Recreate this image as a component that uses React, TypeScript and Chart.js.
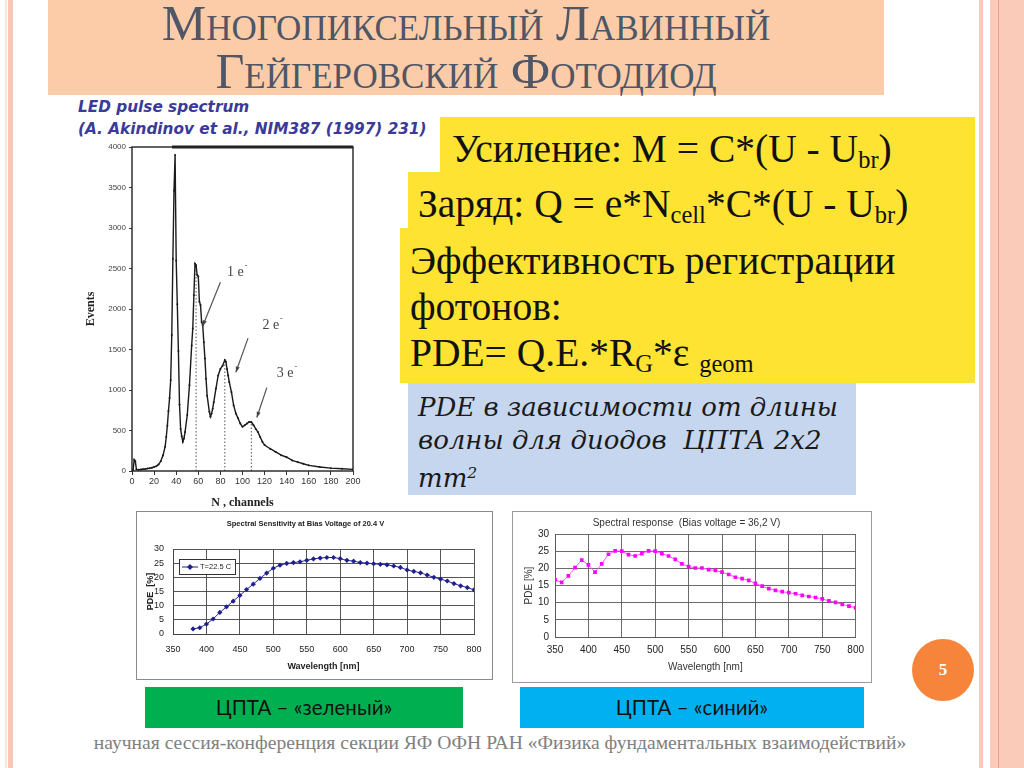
import React, { useEffect, useRef } from "react";
import { Chart, registerables } from "chart.js";
Chart.register(...registerables);

// ---------- LED pulse spectrum ----------
const ledChannels = [0, 1, 2, 3, 4, 6, 8, 10, 12, 14, 16, 18, 20, 22, 24, 26, 28, 30, 31, 32, 33, 34, 35, 36, 37, 38, 39, 40, 41, 42, 43, 44, 45, 46, 47, 48, 50, 52, 54, 55, 56, 57, 58, 59, 60, 61, 62, 63, 64, 65, 66, 67, 68, 70, 71, 72, 73, 74, 76, 78, 80, 82, 84, 85, 86, 87, 88, 90, 92, 94, 96, 98, 100, 102, 104, 106, 108, 110, 112, 114, 116, 118, 120, 125, 130, 135, 140, 145, 150, 155, 160, 170, 180, 190, 200];
const ledEvents = [5, 10, 140, 120, 20, 15, 18, 22, 25, 30, 35, 40, 50, 60, 80, 120, 190, 300, 420, 560, 740, 900, 1120, 1680, 2620, 3460, 3900, 2600, 2060, 1480, 820, 520, 430, 360, 400, 480, 690, 1060, 1550, 1760, 2170, 2560, 2540, 2420, 2400, 2090, 2050, 1840, 1800, 1590, 1390, 1140, 930, 730, 670, 710, 770, 850, 1020, 1180, 1260, 1300, 1370, 1350, 1260, 1180, 1100, 975, 810, 710, 650, 585, 545, 565, 585, 605, 605, 565, 520, 480, 420, 360, 320, 275, 235, 195, 170, 130, 110, 90, 70, 50, 35, 28, 20];
const ledPeakChannels = [58, 84, 108];
const ledPeakEvents = [2540, 1370, 605];
const ledPeakLabels = ["1 e", "2 e", "3 e"];
const ledLabelCh = [86, 118, 131];
const ledLabelEv = [2453, 1799, 1210];
const ledArrowFromCh = [80, 105, 122];
const ledArrowFromEv = [2330, 1640, 1030];
const ledArrowToCh = [64, 94, 113];
const ledArrowToEv = [1790, 1220, 660];

// ---------- Spectral sensitivity (green SiPM) ----------
const greenWavelength = [380, 390, 400, 410, 420, 430, 440, 450, 460, 470, 480, 490, 500, 510, 520, 530, 540, 550, 560, 570, 580, 590, 600, 610, 620, 630, 640, 650, 660, 670, 680, 690, 700, 710, 720, 730, 740, 750, 760, 770, 780, 790, 800];
const greenPDE = [1.8, 2.2, 3.5, 5.3, 7.6, 9.6, 11.6, 13.6, 15.7, 17.6, 19.6, 21.5, 23.2, 24.3, 24.9, 25.2, 25.5, 26.0, 26.5, 26.8, 27.0, 27.0, 26.6, 26.0, 25.7, 25.2, 25.0, 24.8, 24.6, 24.4, 24.0, 23.5, 22.6, 22.1, 21.6, 20.8, 20.0, 19.4, 18.7, 17.8, 17.0, 16.4, 15.6];

// ---------- Spectral response (blue SiPM) ----------
const blueWavelength = [350, 360, 370, 380, 390, 400, 410, 420, 430, 440, 450, 460, 470, 480, 490, 500, 510, 520, 530, 540, 550, 560, 570, 580, 590, 600, 610, 620, 630, 640, 650, 660, 670, 680, 690, 700, 710, 720, 730, 740, 750, 760, 770, 780, 790, 800];
const bluePDE = [16.7, 15.9, 17.8, 20.2, 22.4, 21.0, 18.9, 21.3, 24.1, 25.1, 25.0, 24.0, 23.6, 24.3, 25.1, 25.0, 24.3, 23.6, 22.6, 21.3, 20.5, 20.1, 20.1, 19.6, 19.4, 18.9, 18.2, 17.4, 17.0, 16.5, 15.6, 14.8, 14.1, 13.6, 13.2, 12.9, 12.6, 12.1, 11.8, 11.5, 11.1, 10.5, 10.1, 9.5, 9.0, 8.5];

const SERIF = "'Liberation Serif', 'Times New Roman', serif";
const SANS = "'Liberation Sans', Arial, sans-serif";

function useChart(ref: React.RefObject<HTMLCanvasElement>, make: () => any) {
  useEffect(() => {
    if (!ref.current) return;
    const chart = new Chart(ref.current, make());
    return () => chart.destroy();
  }, []);
}

const plain = (v: any) => String(v);

const ledFramePlugin = {
  id: "ledFrame",
  afterDraw(chart: any) {
    const { ctx, chartArea: a, scales } = chart;
    ctx.save();
    ctx.strokeStyle = "#222";
    ctx.lineWidth = 1.4;
    ctx.strokeRect(a.left, a.top, a.right - a.left, a.bottom - a.top);
    ctx.lineWidth = 3;
    ctx.beginPath();
    ctx.moveTo(a.left + 40, a.top);
    ctx.lineTo(a.right, a.top);
    ctx.stroke();
    const x = scales.x, y = scales.y;
    ctx.fillStyle = "#444";
    ctx.strokeStyle = "#555";
    ctx.lineWidth = 1.2;
    ledPeakLabels.forEach((t, i) => {
      const px = x.getPixelForValue(ledLabelCh[i]);
      const py = y.getPixelForValue(ledLabelEv[i]);
      ctx.font = `14px ${SERIF}`;
      ctx.textBaseline = "middle";
      ctx.textAlign = "left";
      ctx.fillStyle = "#444";
      ctx.fillText(t, px, py);
      const w = ctx.measureText(t).width;
      ctx.font = `8px ${SERIF}`;
      ctx.fillText("-", px + w + 1, py - 6);
      const x0 = x.getPixelForValue(ledArrowFromCh[i]);
      const y0 = y.getPixelForValue(ledArrowFromEv[i]);
      const x1 = x.getPixelForValue(ledArrowToCh[i]);
      const y1 = y.getPixelForValue(ledArrowToEv[i]);
      ctx.beginPath();
      ctx.moveTo(x0, y0);
      ctx.lineTo(x1, y1);
      ctx.stroke();
      const ang = Math.atan2(y1 - y0, x1 - x0);
      ctx.beginPath();
      ctx.moveTo(x1, y1);
      ctx.lineTo(x1 - 6 * Math.cos(ang - 0.35), y1 - 6 * Math.sin(ang - 0.35));
      ctx.lineTo(x1 - 6 * Math.cos(ang + 0.35), y1 - 6 * Math.sin(ang + 0.35));
      ctx.closePath();
      ctx.fill();
    });
    ctx.restore();
  },
};

function LedChart() {
  const ref = useRef<HTMLCanvasElement>(null);
  useChart(ref, () => ({
    type: "line",
    data: {
      datasets: [
        {
          data: ledChannels.map((c, i) => ({ x: c, y: ledEvents[i] })),
          borderColor: "#1a1a1a",
          borderWidth: 1.4,
          pointRadius: 1,
          pointBackgroundColor: "#1a1a1a",
          pointBorderWidth: 0,
          tension: 0,
        },
        ...ledPeakChannels.map((c, i) => ({
          data: [
            { x: c, y: 0 },
            { x: c, y: ledPeakEvents[i] },
          ],
          borderColor: "#555",
          borderWidth: 1,
          borderDash: [1.5, 2],
          pointRadius: 0,
        })),
      ],
    },
    options: {
      animation: false,
      responsive: false,
      events: [],
      layout: { padding: { top: 9, right: 17, left: 0, bottom: 0 } },
      plugins: { legend: { display: false }, tooltip: { enabled: false } },
      scales: {
        x: {
          type: "linear",
          min: 0,
          max: 200,
          ticks: { stepSize: 20, font: { size: 9, family: SANS }, color: "#333", padding: 1, callback: plain },
          grid: { drawOnChartArea: false, tickLength: 4, color: "#333" },
          border: { display: false },
          title: { display: true, text: "N , channels", font: { family: SERIF, size: 12, weight: "bold" }, color: "#222", padding: { top: 0, bottom: 8 } },
          afterFit: (s: any) => { s.height = 47; },
        },
        y: {
          type: "linear",
          min: 0,
          max: 4000,
          ticks: { stepSize: 500, font: { size: 8, family: SANS }, color: "#444", padding: 3, callback: plain },
          grid: { drawOnChartArea: false, tickLength: 3, color: "#333" },
          border: { display: false },
          title: { display: true, text: "Events", font: { family: SERIF, size: 12, weight: "bold" }, color: "#222", padding: { top: 14, bottom: 0 } },
          afterFit: (s: any) => { s.width = 62; },
        },
      },
    },
    plugins: [ledFramePlugin],
  }));
  return <canvas ref={ref} width={300} height={380} style={{ position: "absolute", left: 70, top: 138 }} />;
}

const greenLegendPlugin = {
  id: "greenLegend",
  afterDraw(chart: any) {
    const { ctx, chartArea: a } = chart;
    const l = a.left + 6, t = a.top + 10, w = 56, h = 15;
    ctx.save();
    ctx.fillStyle = "#fff";
    ctx.fillRect(l, t, w, h);
    ctx.strokeStyle = "#333";
    ctx.lineWidth = 1;
    ctx.strokeRect(l + 0.5, t + 0.5, w, h);
    ctx.strokeStyle = "#1f1f8f";
    const cy = t + h / 2 + 0.5;
    ctx.beginPath();
    ctx.moveTo(l + 3, cy);
    ctx.lineTo(l + 19, cy);
    ctx.stroke();
    ctx.fillStyle = "#1f1f8f";
    ctx.beginPath();
    const cx = l + 11;
    ctx.moveTo(cx, cy - 3);
    ctx.lineTo(cx + 3, cy);
    ctx.lineTo(cx, cy + 3);
    ctx.lineTo(cx - 3, cy);
    ctx.closePath();
    ctx.fill();
    ctx.fillStyle = "#222";
    ctx.font = `7.5px ${SANS}`;
    ctx.textBaseline = "middle";
    ctx.textAlign = "left";
    ctx.fillText("T=22.5 C", l + 21, cy);
    ctx.restore();
  },
};

function GreenChart() {
  const ref = useRef<HTMLCanvasElement>(null);
  useChart(ref, () => ({
    type: "line",
    data: {
      datasets: [
        {
          data: greenWavelength.map((w, i) => ({ x: w, y: greenPDE[i] })),
          borderColor: "#2a2a9a",
          borderWidth: 1,
          pointStyle: "rectRot",
          pointRadius: 2.6,
          pointBackgroundColor: "#1f1f8f",
          pointBorderColor: "#1f1f8f",
          pointBorderWidth: 0,
          tension: 0,
        },
      ],
    },
    options: {
      animation: false,
      responsive: false,
      events: [],
      layout: { padding: { top: 0, right: 18, left: 0, bottom: 0 } },
      plugins: {
        legend: { display: false },
        tooltip: { enabled: false },
        title: {
          display: true,
          text: "Spectral Sensitivity at Bias Voltage of 20.4 V",
          font: { family: SANS, size: 7.5, weight: "bold" },
          color: "#222",
          padding: { top: 7.3, bottom: 20.7 },
        },
      },
      scales: {
        x: {
          type: "linear",
          min: 350,
          max: 800,
          ticks: { stepSize: 50, font: { size: 9, family: SANS }, color: "#222", padding: 10 },
          grid: { color: "#444", lineWidth: 0.9, drawTicks: false },
          border: { color: "#444" },
          title: { display: true, text: "Wavelength [nm]", font: { family: SANS, size: 9, weight: "bold" }, color: "#222", padding: { top: 0, bottom: 6.6 } },
          afterFit: (s: any) => { s.height = 45; },
        },
        y: {
          type: "linear",
          min: 0,
          max: 30,
          ticks: { stepSize: 5, font: { size: 9, family: SANS }, color: "#222", padding: 9 },
          grid: { color: "#444", lineWidth: 0.9, drawTicks: false },
          border: { color: "#444" },
          title: { display: true, text: "PDE  [%]", font: { family: SANS, size: 9, weight: "bold" }, color: "#222", padding: { top: 8.4, bottom: 0 } },
          afterFit: (s: any) => { s.width = 36; },
        },
      },
    },
    plugins: [greenLegendPlugin],
  }));
  return (
    <div style={{ position: "absolute", left: 136, top: 511, width: 357, height: 169, border: "1px solid #8a8a8a", boxSizing: "border-box", background: "#fff" }}>
      <canvas ref={ref} width={355} height={167} style={{ display: "block" }} />
    </div>
  );
}

function BlueChart() {
  const ref = useRef<HTMLCanvasElement>(null);
  useChart(ref, () => ({
    type: "line",
    data: {
      datasets: [
        {
          data: blueWavelength.map((w, i) => ({ x: w, y: bluePDE[i] })),
          borderColor: "#ff55ff",
          borderWidth: 1,
          pointStyle: "rect",
          pointRadius: 2.6,
          pointBackgroundColor: "#ff00ff",
          pointBorderColor: "#ff00ff",
          pointBorderWidth: 0,
          tension: 0,
        },
      ],
    },
    options: {
      animation: false,
      responsive: false,
      events: [],
      layout: { padding: { top: 0, right: 11, left: 0, bottom: 0 } },
      plugins: {
        legend: { display: false },
        tooltip: { enabled: false },
        title: {
          display: true,
          text: "Spectral response  (Bias voltage = 36,2 V)",
          font: { family: SANS, size: 10, weight: "normal" },
          color: "#333",
          padding: { top: 5, bottom: 5 },
        },
      },
      scales: {
        x: {
          type: "linear",
          min: 350,
          max: 800,
          ticks: { stepSize: 50, font: { size: 10, family: SANS }, color: "#222", padding: 7 },
          grid: { color: "#5a5a5a", lineWidth: 0.9, drawTicks: false },
          border: { color: "#5a5a5a" },
          title: { display: true, text: "Wavelength [nm]", font: { family: SANS, size: 10 }, color: "#333", padding: { top: 0, bottom: 9 } },
          afterFit: (s: any) => { s.height = 45; },
        },
        y: {
          type: "linear",
          min: 0,
          max: 30,
          ticks: { stepSize: 5, font: { size: 10, family: SANS }, color: "#222", padding: 6 },
          grid: { color: "#5a5a5a", lineWidth: 0.9, drawTicks: false },
          border: { color: "#5a5a5a" },
          title: { display: true, text: "PDE [%]", font: { family: SANS, size: 10 }, color: "#333", padding: { top: 10, bottom: 0 } },
          afterFit: (s: any) => { s.width = 42; },
        },
      },
    },
  }));
  return (
    <div style={{ position: "absolute", left: 512, top: 511, width: 360, height: 172, border: "1px solid #9a9a9a", boxSizing: "border-box", background: "#fff" }}>
      <canvas ref={ref} width={358} height={170} style={{ display: "block" }} />
    </div>
  );
}

const abs = (l: number, t: number, w: number, h: number, extra: React.CSSProperties = {}): React.CSSProperties => ({
  position: "absolute", left: l, top: t, width: w, height: h, ...extra,
});

const sub: React.CSSProperties = { fontSize: "0.62em", verticalAlign: "-0.25em" };
const titleLine: React.CSSProperties = { textAlign: "center", color: "#4f5767", fontSize: 50, lineHeight: "48px", fontVariant: "small-caps", whiteSpace: "nowrap" };
const formula: React.CSSProperties = { fontSize: 39.5, lineHeight: "46px", color: "#111", whiteSpace: "nowrap" };

export default function App() {
  useEffect(() => {
    document.body.style.margin = "0";
  }, []);
  return (
    <div style={{ position: "fixed", left: 0, top: 0, width: 1024, height: 768, background: "#fff", overflow: "hidden", fontFamily: SERIF }}>
      {/* side borders */}
      <div style={abs(5, 0, 2, 768, { background: "#fbe6da" })} />
      <div style={abs(8, 0, 5, 768, { background: "#f9c6b7" })} />
      <div style={abs(979, 0, 4, 768, { background: "#f9c9b9" })} />
      <div style={abs(990, 0, 34, 768, { background: "#fbcbb9" })} />
      <div style={abs(998, 0, 1, 768, { background: "#e6a188" })} />

      {/* title */}
      <div style={abs(48, 0, 836, 95, { background: "#fccca9" })} />
      <div style={abs(48, -1, 836, 48, titleLine)}>Многопиксельный Лавинный</div>
      <div style={abs(48, 47, 836, 48, titleLine)}>Гейгеровский Фотодиод</div>

      {/* LED spectrum */}
      <div style={abs(78, 96, 400, 42, { fontFamily: "'DejaVu Sans', sans-serif", fontStyle: "italic", fontWeight: "bold", color: "#3a3a9a", fontSize: 15.3, lineHeight: "22px", whiteSpace: "nowrap" })}>
        LED pulse spectrum
        <br />
        (A. Akindinov et al., NIM387 (1997) 231)
      </div>
      <LedChart />

      {/* formula boxes */}
      <div style={abs(440, 117, 535, 55, { background: "#fee333" })} />
      <div style={abs(408, 172, 567, 56, { background: "#fee333" })} />
      <div style={abs(400, 228, 575, 155, { background: "#fee333" })} />
      <div style={abs(452, 126, 530, 46, formula)}>
        Усиление: M = C*(U - U<span style={sub}>br</span>)
      </div>
      <div style={abs(418, 181, 560, 46, formula)}>
        Заряд: Q = e*N<span style={sub}>cell</span>*C*(U - U<span style={sub}>br</span>)
      </div>
      <div style={abs(410, 238, 565, 140, formula)}>
        Эффективность регистрации
        <br />
        фотонов:
        <br />
        PDE= Q.E.*R<span style={sub}>G</span>*ε <span style={sub}>geom</span>
      </div>
      <div style={abs(408, 383, 448, 112, { background: "#c6d6ef" })} />
      <div style={abs(418, 391, 438, 100, { fontFamily: "'DejaVu Serif', serif", fontSize: 26, lineHeight: "33px", fontStyle: "italic", color: "#1a1a1a", whiteSpace: "nowrap" })}>
        PDE в зависимости от длины
        <br />
        волны для диодов&nbsp; ЦПТА 2x2
        <br />
        mm<sup style={{ fontSize: "0.6em", verticalAlign: "0.6em" }}>2</sup>
      </div>

      {/* bottom charts */}
      <GreenChart />
      <BlueChart />

      <div style={abs(145, 687, 318, 41, { background: "#00b050", textAlign: "center", fontFamily: "Lato, 'Open Sans', sans-serif", fontSize: 20.5, lineHeight: "41px", color: "#111" })}>
        ЦПТА – «зеленый»
      </div>
      <div style={abs(520, 687, 344, 41, { background: "#00b0f0", textAlign: "center", fontFamily: "Lato, 'Open Sans', sans-serif", fontSize: 20.5, lineHeight: "41px", color: "#111" })}>
        ЦПТА – «синий»
      </div>

      {/* page number */}
      <div style={abs(912, 639, 62, 62, { borderRadius: "50%", background: "#f6843a", color: "#fff", textAlign: "center", lineHeight: "62px", fontWeight: "bold", fontSize: 17 })}>
        5
      </div>

      {/* footer */}
      <div style={abs(40, 731, 920, 24, { textAlign: "center", fontSize: 19.6, lineHeight: "24px", color: "#808080", whiteSpace: "nowrap" })}>
        научная сессия-конференция секции ЯФ ОФН РАН «Физика фундаментальных взаимодействий»
      </div>
    </div>
  );
}
